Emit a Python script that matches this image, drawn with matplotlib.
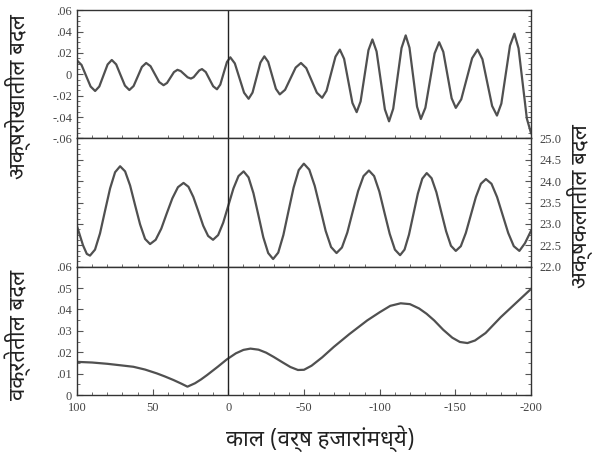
import matplotlib
matplotlib.use("Agg")
import matplotlib.pyplot as plt
from matplotlib.ticker import FixedLocator, FixedFormatter, MultipleLocator

# अक्षरेखा (precession)
t_prec = [100, 97, 94, 91, 88, 85.25, 82.5, 79.75, 77, 74.1, 71.2, 68.3, 65.4,
          62.6, 59.85, 57.1, 54.3, 51.4, 48.55, 45.7, 42.8, 40.5, 38.2, 35.9, 33.6,
          31.4, 29.15, 26.9, 24.7, 22.9, 21.05, 19.2, 17.4, 14.9, 12.45, 10.0, 7.5,
          5.3, 3.1, 0.9, -1.3, -4.3, -7.35, -10.4, -13.4, -16.0, -18.6, -21.2, -23.8,
          -26.35, -28.9, -31.45, -34, -37.5, -41, -44.5, -48, -51.5, -55, -58.5, -62,
          -64.9, -67.85, -70.8, -73.7, -76.5, -79.25, -82.0, -84.8, -87.4, -90.0, -92.6,
          -95.2, -97.95, -100.7, -103.45, -106.2, -108.95, -111.7, -114.45, -117.2,
          -119.7, -122.2, -124.7, -127.2, -130.2, -133.25, -136.3, -139.3, -142.05,
          -144.8, -147.55, -150.3, -153.9, -157.5, -161.1, -164.7, -167.9, -171.1,
          -174.3, -177.5, -180.4, -183.25, -186.1, -189, -191.75, -194.5, -197.25, -200]
v_prec = [0.013, 0.0088, -0.0013, -0.0114, -0.0156, -0.0114, -0.0011, 0.0092, 0.0134,
          0.0093, -0.0007, -0.0106, -0.0147, -0.0110, -0.0021, 0.0069, 0.0106, 0.0076,
          0.0002, -0.0072, -0.0102, -0.0081, -0.003, 0.0021, 0.0042, 0.0030, 0.0001,
          -0.0028, -0.004, -0.0027, 0.0005, 0.0036, 0.0049, 0.0021, -0.0046, -0.0112,
          -0.014, -0.0096, 0.0010, 0.0115, 0.0159, 0.0102, -0.0035, -0.0172, -0.0229,
          -0.0171, -0.0031, 0.0110, 0.0168, 0.0116, -0.001, -0.0136, -0.0188, -0.0145,
          -0.0041, 0.0063, 0.0106, 0.0058, -0.0057, -0.0172, -0.022, -0.0154, 0.0006,
          0.0165, 0.0231, 0.0145, -0.0062, -0.0268, -0.0354, -0.0254, -0.0014, 0.0226,
          0.0326, 0.0214, -0.0057, -0.0328, -0.044, -0.0322, -0.0038, 0.0246, 0.0364,
          0.0249, -0.0027, -0.0303, -0.0418, -0.0313, -0.0059, 0.0195, 0.030, 0.0210,
          -0.0007, -0.0224, -0.0314, -0.0234, -0.0042, 0.0151, 0.0231, 0.0141, -0.0078,
          -0.0296, -0.0386, -0.0274, -0.0003, 0.0268, 0.038, 0.0244, -0.0085, -0.0414,
          -0.055]

# अक्षकला (obliquity, degrees)
t_obl = [100, 96, 93.5, 91.4, 88.08, 84.77, 81.45, 78.13, 74.82, 71.5, 68.2, 64.9,
         61.6, 58.3, 55.0, 51.7, 48.0, 44.3, 40.65, 36.97, 33.28, 29.6, 26.35, 23.1,
         19.85, 16.6, 13.35, 10.1, 6.73, 3.37, 0, -3.37, -6.73, -10.1, -13.35, -16.6,
         -19.85, -23.1, -26.35, -29.6, -32.98, -36.37, -39.75, -43.13, -46.52, -49.9,
         -53.5, -57.1, -60.7, -64.3, -67.9, -71.5, -75.07, -78.63, -82.2, -85.77,
         -89.33, -92.9, -96.33, -99.77, -103.2, -106.63, -110.07, -113.5, -116.43,
         -119.37, -122.3, -125.23, -128.17, -131.1, -134.3, -137.5, -140.7, -143.9,
         -147.1, -150.3, -153.62, -156.93, -160.25, -163.57, -166.88, -170.2, -173.88,
         -177.57, -181.25, -184.93, -188.62, -192.3, -196, -200]
v_obl = [22.95, 22.5, 22.3, 22.26, 22.40, 22.78, 23.31, 23.83, 24.21, 24.35, 24.23,
         23.90, 23.44, 22.99, 22.65, 22.53, 22.63, 22.89, 23.25, 23.60, 23.86, 23.96,
         23.87, 23.63, 23.30, 22.96, 22.72, 22.63, 22.74, 23.03, 23.43, 23.83, 24.12,
         24.23, 24.09, 23.72, 23.21, 22.69, 22.32, 22.18, 22.33, 22.74, 23.30, 23.85,
         24.26, 24.41, 24.27, 23.89, 23.37, 22.84, 22.46, 22.32, 22.45, 22.80, 23.29,
         23.77, 24.12, 24.25, 24.12, 23.76, 23.26, 22.77, 22.40, 22.27, 22.40, 22.75,
         23.23, 23.71, 24.06, 24.19, 24.07, 23.74, 23.28, 22.83, 22.49, 22.37, 22.48,
         22.79, 23.21, 23.63, 23.94, 24.05, 23.94, 23.63, 23.21, 22.79, 22.48, 22.37,
         22.55, 22.84]

# वक्रता (eccentricity)
t_ecc = [100, 90, 80, 70, 62.7, 55, 47.2, 42, 36.2, 31, 27, 22, 18, 14.1, 7, 0.9,
         -5, -10, -14.6, -20, -25, -30, -36, -41, -46, -50, -55, -62, -69.7, -80,
         -91.8, -100, -107, -113.9, -120, -126, -131, -136, -142, -148, -153, -158,
         -163, -170, -180, -190, -200]
v_ecc = [0.0155, 0.0152, 0.0146, 0.0138, 0.0132, 0.0119, 0.0101, 0.0087, 0.007,
         0.0053, 0.0039, 0.0055, 0.0073, 0.0093, 0.0132, 0.0167, 0.0195, 0.0211,
         0.0217, 0.0212, 0.0198, 0.0178, 0.0152, 0.0131, 0.0117, 0.0118, 0.0137,
         0.0176, 0.0225, 0.0285, 0.0349, 0.0387, 0.0417, 0.0429, 0.0425, 0.0405,
         0.0380, 0.0349, 0.0305, 0.0268, 0.0248, 0.0243, 0.0255, 0.0290, 0.0364,
         0.0430, 0.0496]

prec_ticks = [0.06, 0.04, 0.02, 0, -0.02, -0.04, -0.06]
prec_labels = ['.06', '.04', '.02', '0', '-.02', '-.04', '-.06']
obl_ticks = [25.0, 24.5, 24.0, 23.5, 23.0, 22.5, 22.0]
obl_labels = ['25.0', '24.5', '24.0', '23.5', '23.0', '22.5', '22.0']
ecc_ticks = [0.06, 0.05, 0.04, 0.03, 0.02, 0.01, 0]
ecc_labels = ['.06', '.05', '.04', '.03', '.02', '.01', '0']
x_ticks = [100, 50, 0, -50, -100, -150, -200]
x_labels = ['100', '50', '0', '-50', '-100', '-150', '-200']

dev = ['Noto Sans Devanagari', 'Mukta', 'DejaVu Sans']
tickfont = {'family': 'Liberation Serif', 'size': 9}
linecol = '#505050'

fig = plt.figure(figsize=(5.99, 4.62), dpi=100)
left, right = 0.1285, 0.8865
bottom, top = 0.145, 0.978
h = (top - bottom) / 3

ax1 = fig.add_axes([left, bottom + 2 * h, right - left, h])
ax2 = fig.add_axes([left, bottom + h, right - left, h], sharex=ax1)
ax3 = fig.add_axes([left, bottom, right - left, h], sharex=ax1)

for ax, t, v in ((ax1, t_prec, v_prec), (ax2, t_obl, v_obl), (ax3, t_ecc, v_ecc)):
    ax.plot(t, v, color=linecol, lw=1.6, solid_joinstyle='round')

for ax in (ax1, ax2, ax3):
    ax.axvline(0, color='#222222', lw=1.0)
    for s in ax.spines.values():
        s.set_linewidth(1.0)
        s.set_color('#333333')
    ax.tick_params(which='both', direction='in', top=False, right=True,
                   colors='#555555', labelcolor='#444444')
    ax.tick_params(which='major', length=4)
    ax.tick_params(which='minor', length=2)
    ax.set_xlim(100, -200)

ax1.set_ylim(-0.06, 0.06)
ax1.yaxis.set_major_locator(FixedLocator(prec_ticks))
ax1.yaxis.set_major_formatter(FixedFormatter(prec_labels))
ax1.yaxis.set_minor_locator(MultipleLocator(0.005))
ax1.tick_params(labelbottom=False, bottom=False)

ax2.set_ylim(22.0, 25.0)
ax2.yaxis.set_major_locator(FixedLocator(obl_ticks))
ax2.yaxis.set_major_formatter(FixedFormatter(obl_labels))
ax2.yaxis.set_minor_locator(MultipleLocator(0.125))
ax2.tick_params(labelleft=False, labelright=True, labelbottom=False, bottom=False)
ax2.tick_params(axis='y', pad=6)

ax3.set_ylim(0, 0.06)
ax3.yaxis.set_major_locator(FixedLocator(ecc_ticks))
ax3.yaxis.set_major_formatter(FixedFormatter(ecc_labels))
ax3.yaxis.set_minor_locator(MultipleLocator(0.005))
ax3.xaxis.set_major_locator(FixedLocator(x_ticks))
ax3.xaxis.set_major_formatter(FixedFormatter(x_labels))
ax3.xaxis.set_minor_locator(MultipleLocator(10))
ax3.tick_params(axis='x', pad=5)

for ax in (ax1, ax2, ax3):
    for lab in ax.get_yticklabels() + ax.get_xticklabels():
        lab.set_fontfamily(tickfont['family'])
        lab.set_fontsize(tickfont['size'])

fig.text(0.03, 0.79, 'अक्षरोखातील बदल', rotation=90, ha='center', va='center',
         family=dev, fontsize=16, color='#222222')
fig.text(0.03, 0.275, 'वक्रतेतील बदल', rotation=90, ha='center', va='center',
         family=dev, fontsize=16, color='#222222')
fig.text(0.968, 0.555, 'अक्षकलातील बदल', rotation=90, ha='center', va='center',
         family=dev, fontsize=16, color='#222222')
fig.text(0.535, 0.05, 'काल (वर्ष हजारांमध्ये)', ha='center', va='center',
         family=dev, fontsize=16, color='#222222')

fig.savefig('out.png', dpi=100)
